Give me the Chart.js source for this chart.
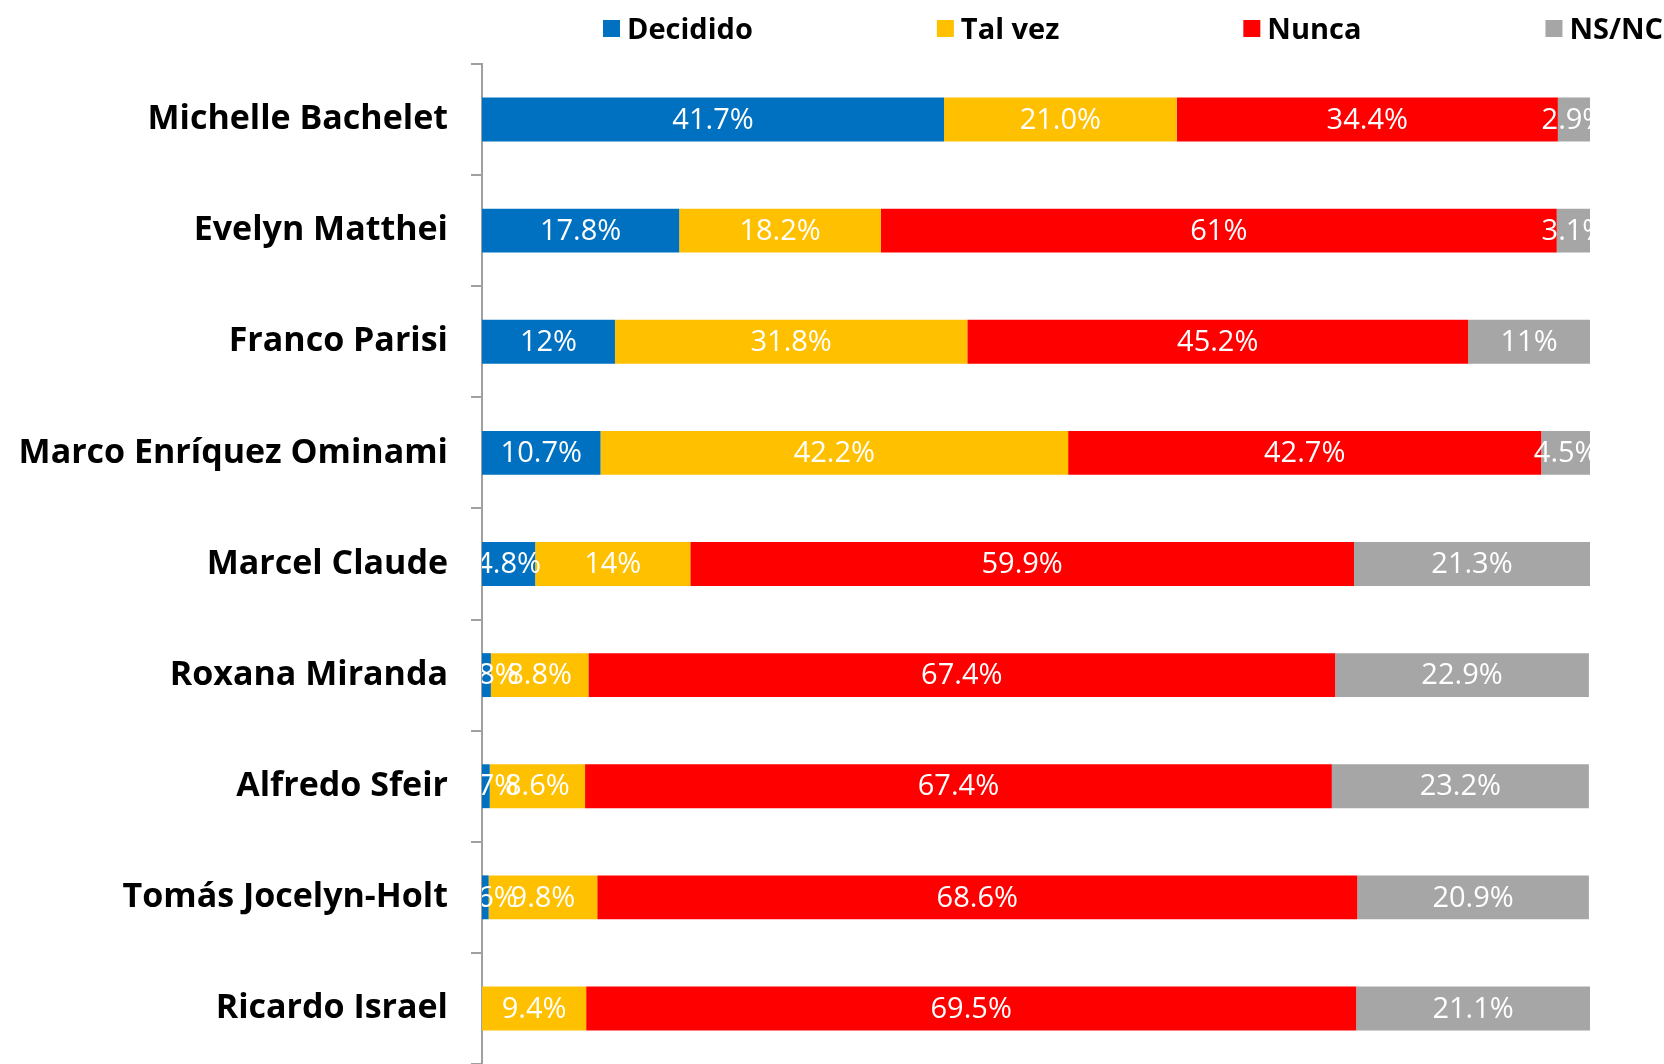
<!DOCTYPE html>
<html>
<head>
<meta charset="utf-8">
<title>Intención de voto</title>
<script src="https://cdn.jsdelivr.net/npm/chart.js@4.4.0/dist/chart.umd.min.js"></script>
<style>
  html, body { margin: 0; padding: 0; background: #fff; }
  #wrap { width: 1664px; height: 1064px; }
</style>
</head>
<body>
<div id="wrap"><canvas id="chart"></canvas></div>
<script>
// categories and series
const candidates = [
    "Michelle Bachelet",
    "Evelyn Matthei",
    "Franco Parisi",
    "Marco Enríquez Ominami",
    "Marcel Claude",
    "Roxana Miranda",
    "Alfredo Sfeir",
    "Tomás Jocelyn-Holt",
    "Ricardo Israel"
];
const seriesNames = ["Decidido", "Tal vez", "Nunca", "NS/NC"];

// kept as text so the labels read like the original ("21.0%" vs "61%")
const decidido = ["41.7", "17.8", "12", "10.7", "4.8", "0.8", "0.7", "0.6", "0"];
const talVez   = ["21.0", "18.2", "31.8", "42.2", "14", "8.8", "8.6", "9.8", "9.4"];
const nunca    = ["34.4", "61", "45.2", "42.7", "59.9", "67.4", "67.4", "68.6", "69.5"];
const nsnc     = ["2.9", "3.1", "11", "4.5", "21.3", "22.9", "23.2", "20.9", "21.1"];

const colors = ["#0070C0", "#FFC000", "#FF0000", "#A6A6A6"];

// white value labels in the middle of each segment, clipped to the plot area
const segmentLabels = {
    id: "segmentLabels",
    afterDatasetsDraw(chart) {
        const ctx = chart.ctx;
        const area = chart.chartArea;
        ctx.save();
        ctx.beginPath();
        ctx.rect(area.left, area.top, area.right - area.left, area.bottom - area.top);
        ctx.clip();
        ctx.fillStyle = "#fff";
        ctx.font = "29px 'Open Sans'";
        ctx.textAlign = "center";
        ctx.textBaseline = "middle";
        chart.data.datasets.forEach((ds, i) => {
            const meta = chart.getDatasetMeta(i);
            meta.data.forEach((bar, j) => {
                const raw = ds.data[j];
                if (+raw === 0) return;
                const x = (bar.x + bar.base) / 2;
                ctx.fillText(raw + "%", x, bar.y + 1);
            });
        });
        ctx.restore();
    }
};

// legend row along the top
const topLegend = {
    id: "topLegend",
    afterDraw(chart, args, opts) {
        const ctx = chart.ctx;
        ctx.save();
        ctx.font = "bold 29px 'Open Sans'";
        ctx.textBaseline = "middle";
        ctx.textAlign = "left";
        let x = opts.startX;
        chart.data.datasets.forEach(ds => {
            ctx.fillStyle = ds.backgroundColor;
            ctx.fillRect(x, opts.y - 8, 17, 17);
            ctx.fillStyle = "#000";
            ctx.fillText(ds.label, x + 24, opts.y + 3);
            x += 24 + ctx.measureText(ds.label).width + opts.gap;
        });
        ctx.restore();
    }
};

const ctx = document.getElementById("chart").getContext("2d");

new Chart(ctx, {
    type: "bar",
    data: {
        labels: candidates,
        datasets: [decidido, talVez, nunca, nsnc].map((values, i) => ({
            label: seriesNames[i],
            data: values,
            backgroundColor: colors[i],
            borderWidth: 0,
            barPercentage: 0.395,
            categoryPercentage: 1
        }))
    },
    options: {
        indexAxis: "y",
        responsive: true,
        maintainAspectRatio: false,
        animation: false,
        layout: { padding: { top: 64, right: 74, bottom: -3, left: 0 } },
        plugins: {
            legend: { display: false },
            tooltip: { enabled: false },
            topLegend: { startX: 603, y: 28, gap: 184 }
        },
        scales: {
            x: {
                stacked: true,
                min: 0,
                max: 100,
                display: false
            },
            y: {
                stacked: true,
                afterFit: scale => {
                    scale.width = 482;
                    scale.paddingTop = 0;
                    scale.paddingBottom = -3;
                },
                border: { display: true, color: "#A0A0A0", width: 2 },
                grid: {
                    drawOnChartArea: false,
                    drawTicks: true,
                    tickLength: 11,
                    color: "#A0A0A0",
                    lineWidth: 2
                },
                ticks: {
                    padding: 23,
                    color: "#000",
                    font: { family: "'Open Sans'", size: 34, weight: "bold" }
                }
            }
        }
    },
    plugins: [segmentLabels, topLegend]
});
</script>
</body>
</html>
